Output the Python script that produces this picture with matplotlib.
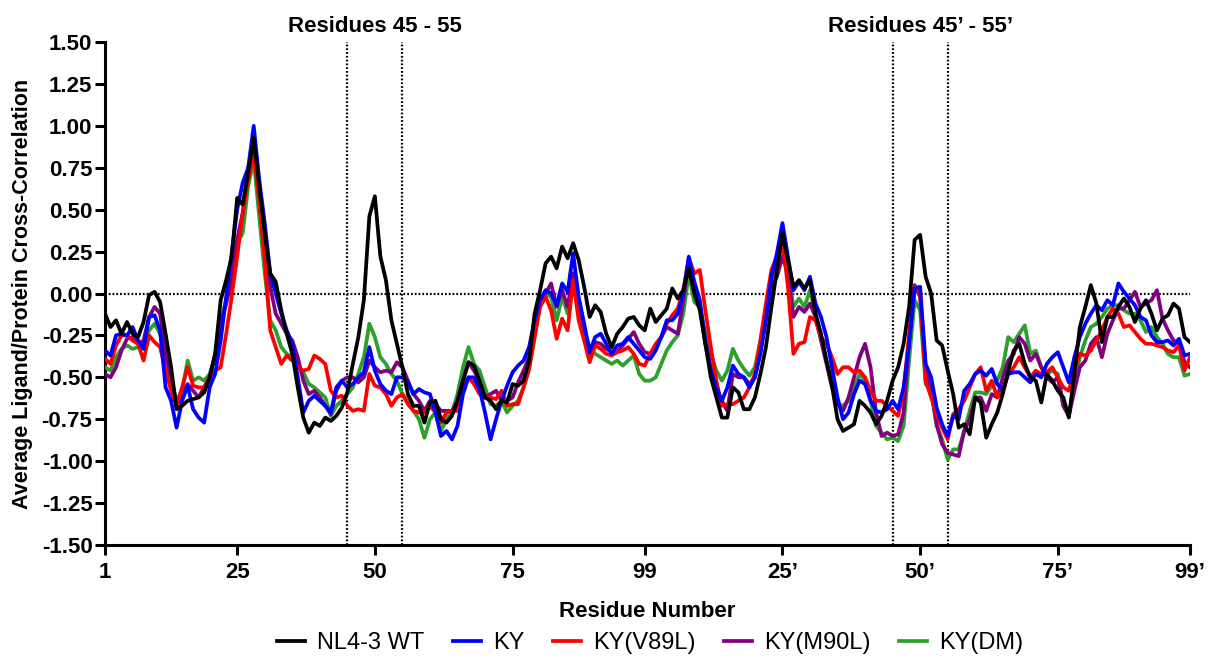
import numpy as np
import matplotlib
matplotlib.use("Agg")
import matplotlib.pyplot as plt

plt.rcParams['font.family'] = ['Liberation Sans', 'DejaVu Sans']

# residue index 1..99 then 1'..99' (plotted as 1..198)
residues = np.arange(1, 199)

nl43_wt = [
    -0.12, -0.20, -0.16, -0.24, -0.17, -0.24, -0.26, -0.17, -0.01, 0.01,
    -0.05, -0.24, -0.44, -0.69, -0.67, -0.64, -0.63, -0.62, -0.59, -0.50,
    -0.36, -0.04, 0.08, 0.22, 0.57, 0.53, 0.72, 0.93, 0.64, 0.36,
    0.12, 0.07, -0.10, -0.24, -0.36, -0.56, -0.74, -0.83, -0.77, -0.79,
    -0.74, -0.76, -0.73, -0.68, -0.59, -0.42, -0.26, -0.04, 0.46, 0.58,
    0.22, 0.08, -0.16, -0.30, -0.44, -0.60, -0.67, -0.67, -0.77, -0.65,
    -0.64, -0.75, -0.77, -0.73, -0.64, -0.52, -0.41, -0.43, -0.52, -0.62,
    -0.64, -0.69, -0.64, -0.65, -0.54, -0.55, -0.52, -0.40, -0.12, 0.02,
    0.18, 0.22, 0.15, 0.28, 0.21, 0.30, 0.20, 0.04, -0.14, -0.07,
    -0.11, -0.24, -0.32, -0.24, -0.20, -0.15, -0.14, -0.19, -0.22, -0.09,
    -0.17, -0.13, -0.09, 0.03, -0.03, 0.02, 0.15, 0.00, -0.10, -0.30,
    -0.50, -0.62, -0.74, -0.74, -0.56, -0.59, -0.69, -0.69, -0.62, -0.48,
    -0.32, -0.08, 0.14, 0.36, 0.20, 0.04, 0.08, 0.03, 0.08, -0.12,
    -0.24, -0.40, -0.55, -0.75, -0.82, -0.80, -0.78, -0.64, -0.67, -0.71,
    -0.78, -0.73, -0.64, -0.52, -0.44, -0.30, -0.08, 0.32, 0.35, 0.10,
    0.00, -0.28, -0.31, -0.46, -0.60, -0.80, -0.78, -0.84, -0.62, -0.65,
    -0.86, -0.78, -0.71, -0.60, -0.46, -0.34, -0.30, -0.42, -0.50, -0.52,
    -0.65, -0.48, -0.52, -0.58, -0.62, -0.74, -0.48, -0.20, -0.08, 0.05,
    -0.06, -0.29, -0.14, -0.14, -0.08, -0.03, -0.08, -0.17, -0.09, -0.04,
    -0.12, -0.22, -0.15, -0.13, -0.06, -0.09, -0.26, -0.29,
]

ky = [
    -0.34, -0.37, -0.25, -0.24, -0.25, -0.20, -0.28, -0.33, -0.14, -0.13,
    -0.22, -0.56, -0.64, -0.80, -0.64, -0.55, -0.69, -0.74, -0.77, -0.56,
    -0.48, -0.28, -0.02, 0.24, 0.50, 0.66, 0.75, 1.00, 0.68, 0.42,
    0.12, 0.00, -0.12, -0.22, -0.30, -0.50, -0.71, -0.64, -0.61, -0.64,
    -0.67, -0.71, -0.56, -0.52, -0.56, -0.54, -0.50, -0.47, -0.32, -0.46,
    -0.54, -0.58, -0.60, -0.50, -0.50, -0.53, -0.60, -0.57, -0.59, -0.60,
    -0.71, -0.85, -0.82, -0.87, -0.79, -0.60, -0.50, -0.50, -0.57, -0.71,
    -0.87, -0.75, -0.64, -0.55, -0.47, -0.43, -0.40, -0.32, -0.16, -0.04,
    0.02, 0.00, -0.07, 0.06, 0.01, 0.24, -0.02, -0.18, -0.35, -0.26,
    -0.24, -0.30, -0.36, -0.31, -0.30, -0.26, -0.30, -0.34, -0.38, -0.39,
    -0.34, -0.26, -0.16, -0.16, -0.12, 0.00, 0.22, 0.07, -0.04, -0.28,
    -0.46, -0.56, -0.64, -0.56, -0.43, -0.48, -0.50, -0.56, -0.50, -0.36,
    -0.16, 0.10, 0.24, 0.42, 0.22, 0.02, 0.07, 0.02, 0.10, -0.06,
    -0.14, -0.26, -0.44, -0.62, -0.75, -0.71, -0.60, -0.52, -0.54, -0.64,
    -0.70, -0.71, -0.69, -0.64, -0.69, -0.56, -0.30, 0.03, 0.04, -0.42,
    -0.50, -0.68, -0.78, -0.85, -0.73, -0.75, -0.58, -0.54, -0.48, -0.46,
    -0.49, -0.45, -0.54, -0.58, -0.48, -0.47, -0.47, -0.50, -0.53, -0.48,
    -0.50, -0.42, -0.38, -0.35, -0.44, -0.53, -0.38, -0.26, -0.18, -0.12,
    -0.07, -0.10, -0.04, -0.07, 0.06, 0.01, -0.03, -0.07, -0.14, -0.16,
    -0.25, -0.29, -0.29, -0.28, -0.31, -0.27, -0.37, -0.36,
]

ky_v89l = [
    -0.39, -0.42, -0.31, -0.25, -0.25, -0.28, -0.30, -0.40, -0.25, -0.29,
    -0.32, -0.46, -0.58, -0.67, -0.56, -0.44, -0.55, -0.56, -0.56, -0.50,
    -0.46, -0.44, -0.24, -0.02, 0.22, 0.48, 0.68, 0.84, 0.56, 0.20,
    -0.22, -0.32, -0.42, -0.37, -0.40, -0.44, -0.46, -0.45, -0.37, -0.39,
    -0.42, -0.58, -0.62, -0.61, -0.67, -0.70, -0.69, -0.70, -0.48, -0.55,
    -0.56, -0.60, -0.67, -0.62, -0.60, -0.66, -0.70, -0.71, -0.71, -0.67,
    -0.71, -0.77, -0.71, -0.70, -0.70, -0.56, -0.50, -0.54, -0.60, -0.62,
    -0.62, -0.63, -0.58, -0.67, -0.66, -0.66, -0.56, -0.45, -0.26, -0.08,
    -0.02, -0.10, -0.27, -0.15, -0.22, 0.08, -0.16, -0.28, -0.41, -0.31,
    -0.33, -0.36, -0.37, -0.35, -0.34, -0.32, -0.36, -0.42, -0.43, -0.36,
    -0.30, -0.26, -0.18, -0.13, -0.09, 0.02, 0.21, 0.12, 0.14, -0.10,
    -0.32, -0.52, -0.67, -0.66, -0.66, -0.64, -0.62, -0.56, -0.48, -0.28,
    -0.06, 0.14, 0.22, 0.32, 0.04, -0.36, -0.30, -0.29, -0.14, -0.16,
    -0.26, -0.30, -0.38, -0.48, -0.44, -0.44, -0.47, -0.46, -0.50, -0.58,
    -0.64, -0.64, -0.67, -0.70, -0.73, -0.58, -0.24, 0.04, 0.00, -0.52,
    -0.62, -0.72, -0.80, -0.87, -0.72, -0.69, -0.64, -0.56, -0.48, -0.44,
    -0.58, -0.52, -0.62, -0.58, -0.48, -0.44, -0.38, -0.44, -0.50, -0.46,
    -0.48, -0.47, -0.44, -0.50, -0.56, -0.58, -0.46, -0.36, -0.37, -0.34,
    -0.28, -0.22, -0.14, -0.09, -0.12, -0.20, -0.19, -0.23, -0.27, -0.30,
    -0.30, -0.31, -0.32, -0.34, -0.35, -0.31, -0.46, -0.38,
]

ky_m90l = [
    -0.48, -0.50, -0.44, -0.34, -0.27, -0.26, -0.30, -0.28, -0.14, -0.08,
    -0.12, -0.36, -0.50, -0.67, -0.60, -0.54, -0.58, -0.62, -0.56, -0.50,
    -0.36, -0.18, -0.06, 0.08, 0.32, 0.48, 0.75, 0.88, 0.56, 0.26,
    0.04, -0.12, -0.18, -0.24, -0.28, -0.38, -0.52, -0.60, -0.58, -0.62,
    -0.67, -0.72, -0.58, -0.52, -0.50, -0.50, -0.53, -0.50, -0.40, -0.44,
    -0.47, -0.46, -0.47, -0.41, -0.44, -0.52, -0.60, -0.64, -0.70, -0.64,
    -0.66, -0.70, -0.70, -0.70, -0.64, -0.52, -0.41, -0.46, -0.52, -0.62,
    -0.60, -0.58, -0.64, -0.64, -0.62, -0.53, -0.46, -0.38, -0.20, -0.04,
    0.00, 0.06, -0.08, 0.02, -0.08, 0.12, -0.08, -0.22, -0.38, -0.29,
    -0.30, -0.33, -0.35, -0.35, -0.31, -0.27, -0.23, -0.30, -0.35, -0.36,
    -0.32, -0.26, -0.20, -0.22, -0.24, -0.04, 0.20, 0.02, -0.08, -0.30,
    -0.45, -0.58, -0.64, -0.70, -0.48, -0.50, -0.50, -0.54, -0.50, -0.34,
    -0.14, 0.04, 0.10, 0.22, 0.12, -0.14, -0.08, -0.11, -0.06, -0.14,
    -0.28, -0.42, -0.56, -0.66, -0.70, -0.62, -0.50, -0.38, -0.30, -0.44,
    -0.71, -0.85, -0.83, -0.85, -0.84, -0.71, -0.28, 0.05, -0.02, -0.44,
    -0.58, -0.78, -0.90, -0.95, -0.96, -0.97, -0.82, -0.75, -0.62, -0.62,
    -0.70, -0.60, -0.62, -0.50, -0.40, -0.36, -0.26, -0.30, -0.40, -0.36,
    -0.44, -0.50, -0.53, -0.50, -0.67, -0.73, -0.58, -0.44, -0.40, -0.30,
    -0.26, -0.38, -0.24, -0.16, -0.09, -0.09, -0.04, 0.01, -0.08, -0.06,
    -0.04, 0.02, -0.15, -0.22, -0.28, -0.30, -0.41, -0.44,
]

ky_dm = [
    -0.44, -0.46, -0.38, -0.33, -0.31, -0.33, -0.32, -0.32, -0.22, -0.18,
    -0.24, -0.40, -0.52, -0.64, -0.58, -0.40, -0.52, -0.50, -0.52, -0.48,
    -0.38, -0.16, -0.04, 0.12, 0.30, 0.36, 0.64, 0.80, 0.46, 0.12,
    -0.16, -0.22, -0.32, -0.36, -0.38, -0.43, -0.47, -0.54, -0.56, -0.59,
    -0.62, -0.73, -0.67, -0.64, -0.60, -0.56, -0.48, -0.38, -0.18, -0.26,
    -0.38, -0.42, -0.48, -0.52, -0.60, -0.64, -0.70, -0.75, -0.86, -0.75,
    -0.71, -0.82, -0.75, -0.71, -0.60, -0.44, -0.32, -0.42, -0.46, -0.56,
    -0.66, -0.67, -0.64, -0.71, -0.67, -0.64, -0.56, -0.45, -0.26, -0.06,
    0.00, -0.02, -0.16, -0.02, -0.12, 0.10, -0.08, -0.22, -0.32, -0.36,
    -0.38, -0.40, -0.42, -0.40, -0.43, -0.40, -0.37, -0.48, -0.52, -0.52,
    -0.50, -0.42, -0.34, -0.29, -0.25, -0.12, 0.12, -0.05, -0.08, -0.24,
    -0.36, -0.46, -0.52, -0.46, -0.33, -0.40, -0.45, -0.49, -0.44, -0.28,
    -0.12, 0.08, 0.23, 0.25, 0.14, -0.08, -0.03, -0.08, 0.02, -0.12,
    -0.26, -0.40, -0.54, -0.66, -0.67, -0.64, -0.56, -0.48, -0.52, -0.64,
    -0.79, -0.83, -0.87, -0.86, -0.88, -0.79, -0.40, -0.04, -0.10, -0.54,
    -0.58, -0.79, -0.87, -0.99, -0.93, -0.93, -0.82, -0.70, -0.59, -0.59,
    -0.60, -0.55, -0.52, -0.44, -0.26, -0.29, -0.24, -0.19, -0.36, -0.34,
    -0.44, -0.48, -0.46, -0.48, -0.67, -0.73, -0.54, -0.38, -0.28, -0.20,
    -0.18, -0.14, -0.09, -0.07, -0.07, -0.10, -0.12, -0.12, -0.16, -0.23,
    -0.20, -0.26, -0.30, -0.36, -0.38, -0.38, -0.49, -0.48,
]

series_names = ["NL4-3 WT", "KY", "KY(V89L)", "KY(M90L)", "KY(DM)"]
series_colors = ["#000000", "#0000ff", "#ff0000", "#800080", "#2ca02c"]

tick_pos = [1, 25, 50, 75, 99, 124, 149, 174, 198]
tick_labels = ["1", "25", "50", "75", "99", "25\u2019", "50\u2019", "75\u2019", "99\u2019"]
y_ticks = np.arange(-1.5, 1.51, 0.25)

region_lines = [45, 55, 144, 154]
region_labels = ["Residues 45 - 55", "Residues 45\u2019 - 55\u2019"]
region_centers = [50, 149]

fig = plt.figure(figsize=(12.08, 6.63), dpi=100)
ax = fig.add_axes([105 / 1208, 1 - 545 / 663, (1190 - 105) / 1208, (545 - 42) / 663])

all_series = [nl43_wt, ky, ky_v89l, ky_m90l, ky_dm]
# draw green first so black ends up on top
handles = []
for i in reversed(range(len(all_series))):
    h, = ax.plot(residues, all_series[i], color=series_colors[i], lw=2.7,
                 label=series_names[i], zorder=3 + (5 - i))
    handles.insert(0, h)

dots = (0, (0.8, 0.9))
ax.axhline(0, color='black', ls=dots, lw=1.6, zorder=2)
for xv in region_lines:
    ax.axvline(xv, color='black', ls=dots, lw=1.6, zorder=2)

for xc, lab in zip(region_centers, region_labels):
    ax.text(xc, 1.56, lab, ha='center', va='baseline', fontsize=16, fontweight='bold')

ax.set_xlim(1, 198)
ax.set_ylim(-1.5, 1.5)
ax.set_xticks(tick_pos)
ax.set_xticklabels(tick_labels)
ax.set_yticks(y_ticks)
ax.set_yticklabels(["%.2f" % v for v in y_ticks])

for lab in ax.get_xticklabels() + ax.get_yticklabels():
    lab.set_fontweight('bold')
ax.tick_params(axis='both', labelsize=16, width=2.2, length=7, direction='out')
ax.tick_params(axis='x', pad=5)
ax.tick_params(axis='y', pad=2)

ax.spines['top'].set_visible(False)
ax.spines['right'].set_visible(False)
ax.spines['left'].set_linewidth(2.2)
ax.spines['bottom'].set_linewidth(2.2)

ax.set_xlabel("Residue Number", fontsize=16, fontweight='bold', labelpad=13)
ax.set_ylabel("Average Ligand/Protein Cross-Correlation", fontsize=15.5, fontweight='bold', labelpad=6)

fig.legend(handles, series_names, loc='center', bbox_to_anchor=(650 / 1208, 1 - 643 / 663),
           ncol=5, frameon=False, fontsize=17, handlelength=1.2, handletextpad=0.5,
           columnspacing=1.2)

fig.savefig("out.png", dpi=100)
